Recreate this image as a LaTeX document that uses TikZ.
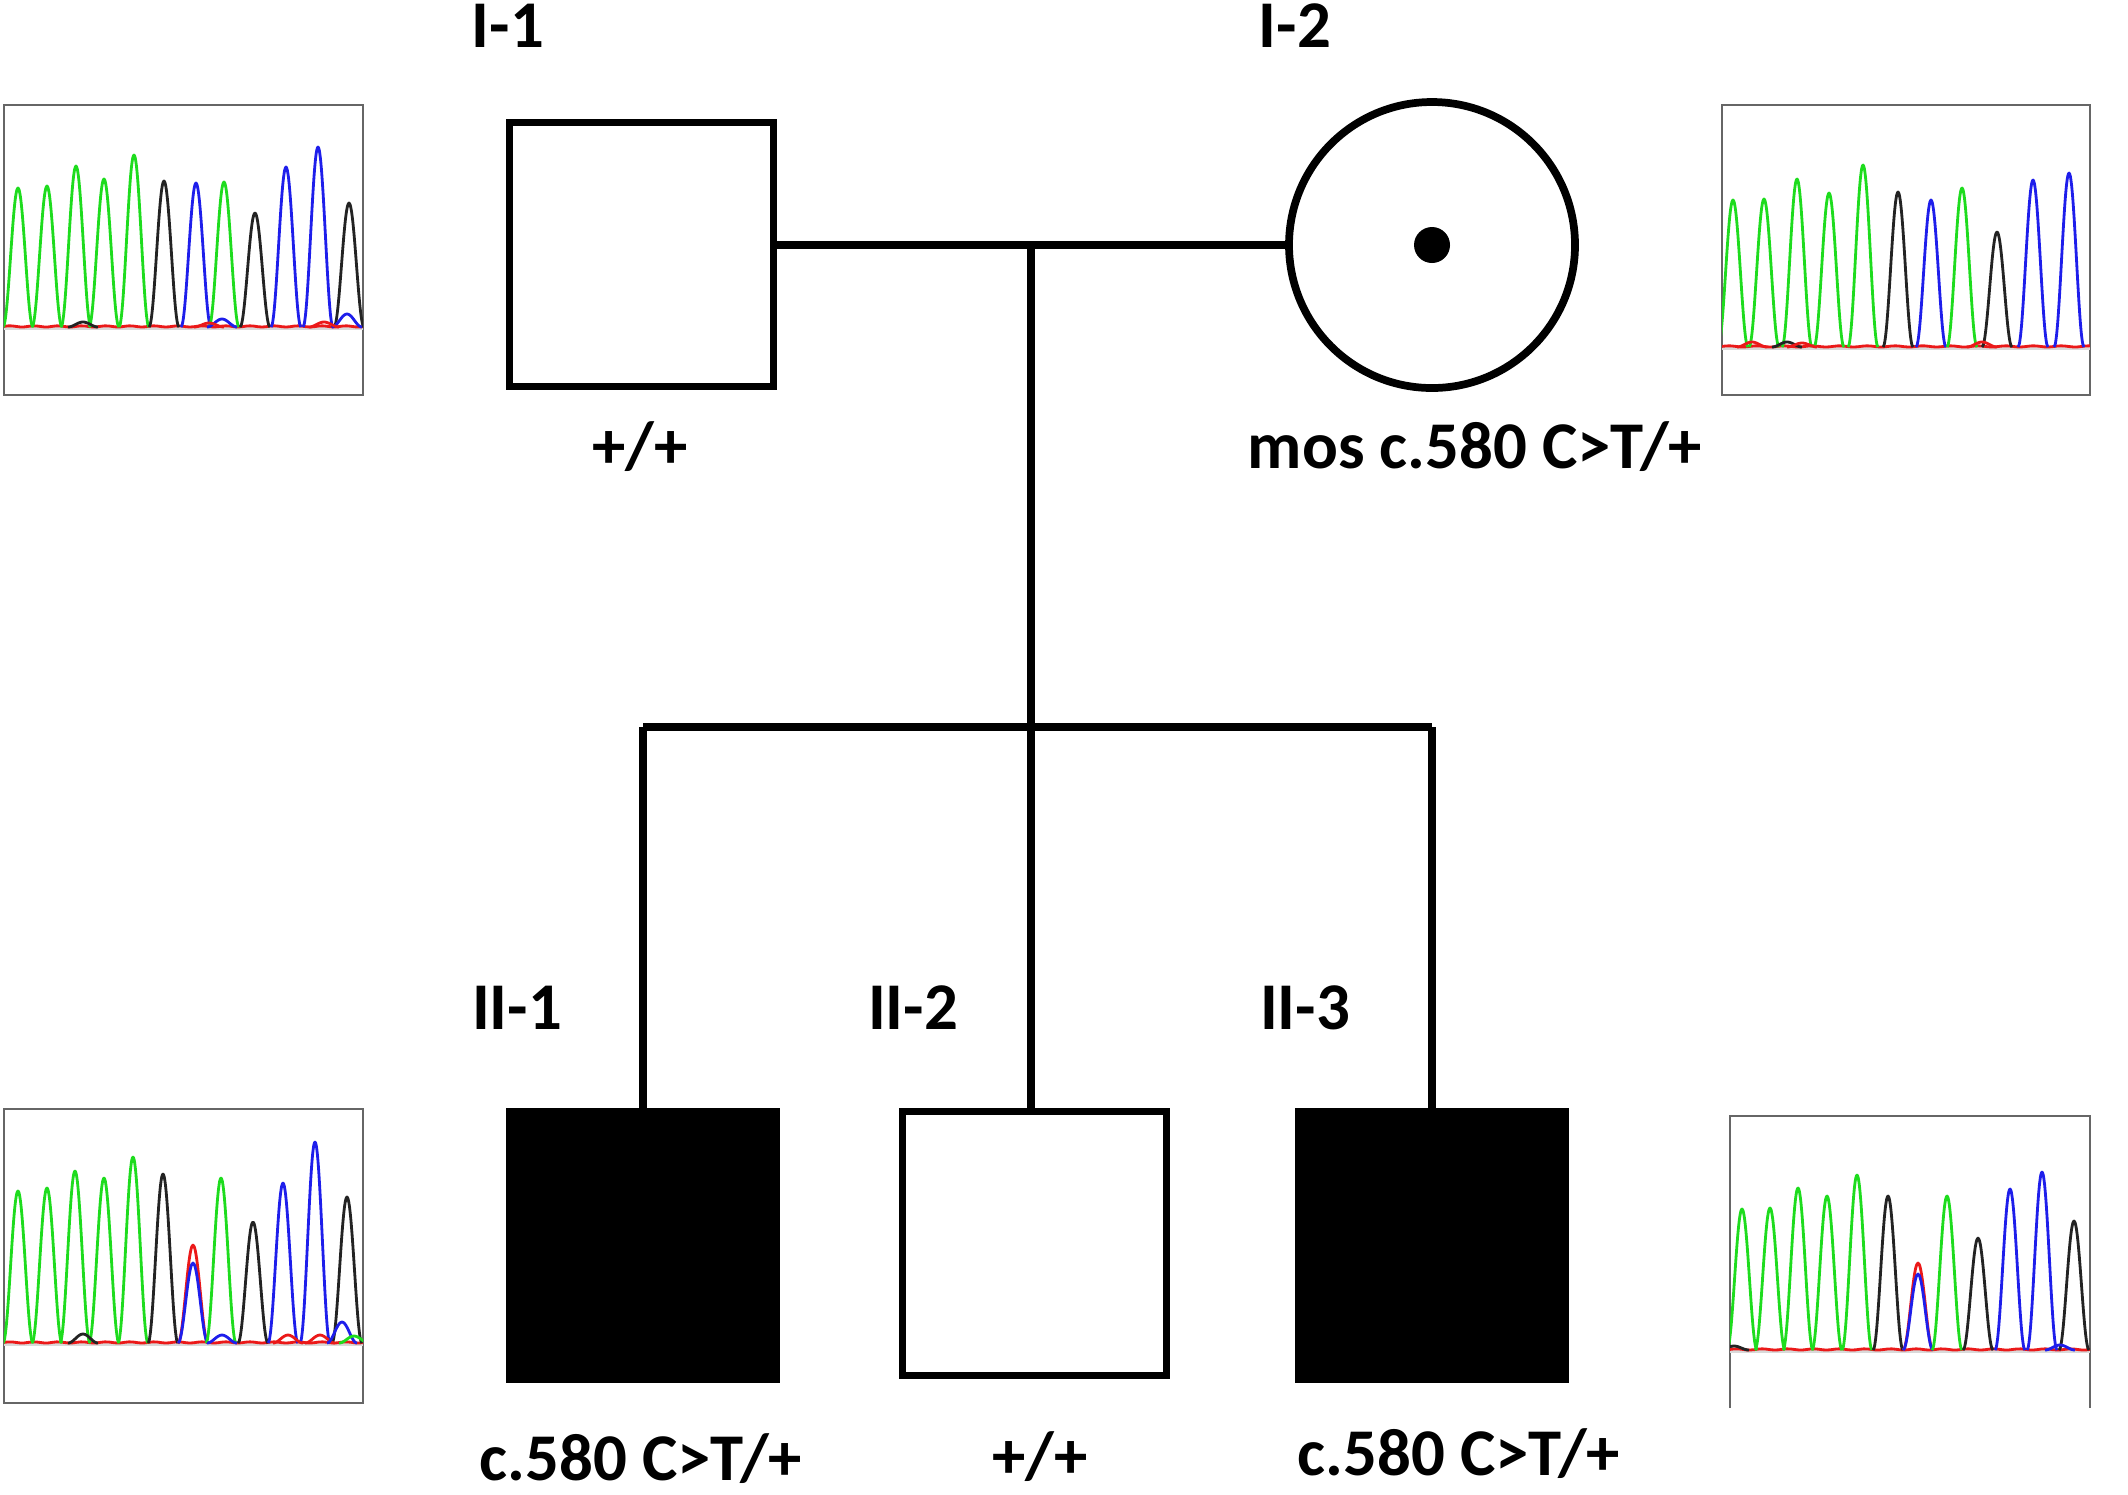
\documentclass[tikz,border=0pt]{standalone}
\usepackage{fontspec}
\setmainfont{Carlito}
\usetikzlibrary{positioning}
\definecolor{trgreen}{RGB}{30,220,30}
\definecolor{trblue}{RGB}{30,30,235}
\definecolor{trblack}{RGB}{35,35,35}
\definecolor{trred}{RGB}{235,25,25}

\begin{document}
\begin{tikzpicture}[
    line width=2.2pt,
    every node/.style={font=\fontsize{19}{22}\selectfont\bfseries},
    male/.style={rectangle, draw, minimum size=2.64cm, inner sep=0pt},
    female/.style={circle, draw, minimum size=2.86cm, inner sep=0pt},
    affected/.style={fill=black, minimum size=2.67cm},
    gentext/.style={anchor=base, inner sep=0pt},
    chrom/.style={draw=black!60, line width=0.7pt},
    trace/.style={line width=0.8pt, line join=round}
]
\useasboundingbox (0,0) rectangle (21.28,-14.94);

% Generation I
\node[male] (I1) at (6.415,-2.545) {};
\node[female] (I2) at (14.32,-2.45) {};
\fill (I2) circle (0.18);
\node[gentext] (labI1) at (5.08,-0.47) {I-1};
\node[gentext] (labI2) at (12.95,-0.47) {I-2};
\node[gentext] (genI1) at (6.40,-4.68) {+/+};
\node[gentext] (genI2) at (14.75,-4.68) {mos c.580 C>T/+};

% Mating and sibship lines
\coordinate (mate) at (10.31,-2.45);
\coordinate (sib) at (10.31,-7.27);
\draw (I1.east |- mate) -- (I2.west);
\draw (mate) -- (sib);

% Generation II
\node[male, affected] (II1) at (6.43,-12.455) {};
\node[male] (II2) at (10.345,-12.435) {};
\node[male, affected] (II3) at (14.32,-12.455) {};
\draw (II1.north |- sib) -- (II3.north |- sib);
\draw (II1.north |- sib) -- (II1.north);
\draw (sib) -- (sib |- II2.north);
\draw (II3.north |- sib) -- (II3.north);
\node[gentext] (labII1) at (5.17,-10.29) {II-1};
\node[gentext] (labII2) at (9.13,-10.29) {II-2};
\node[gentext] (labII3) at (13.05,-10.29) {II-3};
\node[gentext] (genII1) at (6.41,-14.80) {c.580 C>T/+};
\node[gentext] (genII2) at (10.40,-14.78) {+/+};
\node[gentext] (genII3) at (14.59,-14.75) {c.580 C>T/+};

% Chromatogram I-1
\begin{scope}[shift={(0.04,-3.27)}]
  \draw[chrom] (0,2.22) rectangle (3.59,-0.68);
  \clip (0,2.22) rectangle (3.59,-0.68);
  \draw[black!15, line width=1pt] (0,-0.01) -- (3.59,-0.01);
  \draw[trred, trace] plot[variable=\t, domain=0:3.59, samples=90, smooth] (\t,{0.006+0.006*sin(\t*1500)});
  \foreach \c/\x/\h in {trgreen/0.14/1.39, trgreen/0.43/1.41, trgreen/0.72/1.61, trgreen/1.00/1.48,
      trgreen/1.30/1.72, trblack/1.60/1.46, trblue/1.92/1.44, trgreen/2.20/1.45, trblack/2.51/1.14,
      trblue/2.82/1.60, trblue/3.14/1.80, trblack/3.45/1.24, trblack/0.79/0.05, trblue/2.18/0.08,
      trblue/3.43/0.13, trred/2.05/0.04, trred/3.20/0.05}
    \draw[\c, trace, xshift=\x cm] plot[variable=\t, domain=-0.15:0.15, samples=25, smooth]
      (\t,{\h*cos(\t*600)*cos(\t*600)});
\end{scope}

% Chromatogram I-2
\begin{scope}[shift={(17.22,-3.47)}]
  \draw[chrom] (0,2.42) rectangle (3.68,-0.48);
  \clip (0,2.42) rectangle (3.68,-0.48);
  \draw[black!15, line width=1pt] (0,-0.01) -- (3.68,-0.01);
  \draw[trred, trace] plot[variable=\t, domain=0:3.68, samples=90, smooth] (\t,{0.006+0.006*sin(\t*1300)});
  \foreach \c/\x/\h in {trgreen/0.11/1.47, trgreen/0.42/1.48, trgreen/0.75/1.68, trgreen/1.07/1.54,
      trgreen/1.41/1.82, trblack/1.76/1.55, trblue/2.09/1.47, trgreen/2.40/1.59, trblack/2.75/1.15,
      trblue/3.11/1.67, trblue/3.47/1.74, trred/0.30/0.05, trblack/0.65/0.05, trred/0.80/0.04,
      trred/2.60/0.05}
    \draw[\c, trace, xshift=\x cm] plot[variable=\t, domain=-0.15:0.15, samples=25, smooth]
      (\t,{\h*cos(\t*600)*cos(\t*600)});
\end{scope}

% Chromatogram II-1
\begin{scope}[shift={(0.04,-13.43)}]
  \draw[chrom] (0,2.34) rectangle (3.59,-0.60);
  \clip (0,2.34) rectangle (3.59,-0.60);
  \draw[black!15, line width=1pt] (0,-0.01) -- (3.59,-0.01);
  \draw[trred, trace] plot[variable=\t, domain=0:3.59, samples=90, smooth] (\t,{0.006+0.006*sin(\t*1500)});
  \foreach \c/\x/\h in {trgreen/0.14/1.52, trgreen/0.43/1.55, trgreen/0.71/1.72, trgreen/1.00/1.65,
      trgreen/1.29/1.86, trblack/1.59/1.69, trred/1.89/0.98, trblue/1.89/0.80, trgreen/2.17/1.65,
      trblack/2.49/1.21, trblue/2.79/1.60, trblue/3.11/2.01, trblack/3.43/1.46, trblack/0.79/0.09,
      trblue/2.18/0.08, trred/2.84/0.08, trred/3.16/0.08, trblue/3.38/0.21, trgreen/3.50/0.07}
    \draw[\c, trace, xshift=\x cm] plot[variable=\t, domain=-0.15:0.15, samples=25, smooth]
      (\t,{\h*cos(\t*600)*cos(\t*600)});
\end{scope}

% Chromatogram II-3
\begin{scope}[shift={(17.30,-13.50)}]
  \draw[chrom] (0,-0.58) -- (0,2.34) -- (3.60,2.34) -- (3.60,-0.58);
  \clip (0,2.34) rectangle (3.60,-0.58);
  \draw[black!15, line width=1pt] (0,-0.01) -- (3.60,-0.01);
  \draw[trred, trace] plot[variable=\t, domain=0:3.60, samples=90, smooth] (\t,{0.006+0.006*sin(\t*1400)});
  \foreach \c/\x/\h in {trgreen/0.12/1.41, trgreen/0.40/1.42, trgreen/0.68/1.62, trgreen/0.97/1.54,
      trgreen/1.27/1.75, trblack/1.58/1.54, trred/1.88/0.87, trblue/1.88/0.76, trgreen/2.17/1.54,
      trblack/2.48/1.12, trblue/2.80/1.61, trblue/3.12/1.78, trblack/3.44/1.29, trblack/0.04/0.04,
      trblue/3.30/0.05}
    \draw[\c, trace, xshift=\x cm] plot[variable=\t, domain=-0.15:0.15, samples=25, smooth]
      (\t,{\h*cos(\t*600)*cos(\t*600)});
\end{scope}
\end{tikzpicture}
\end{document}
